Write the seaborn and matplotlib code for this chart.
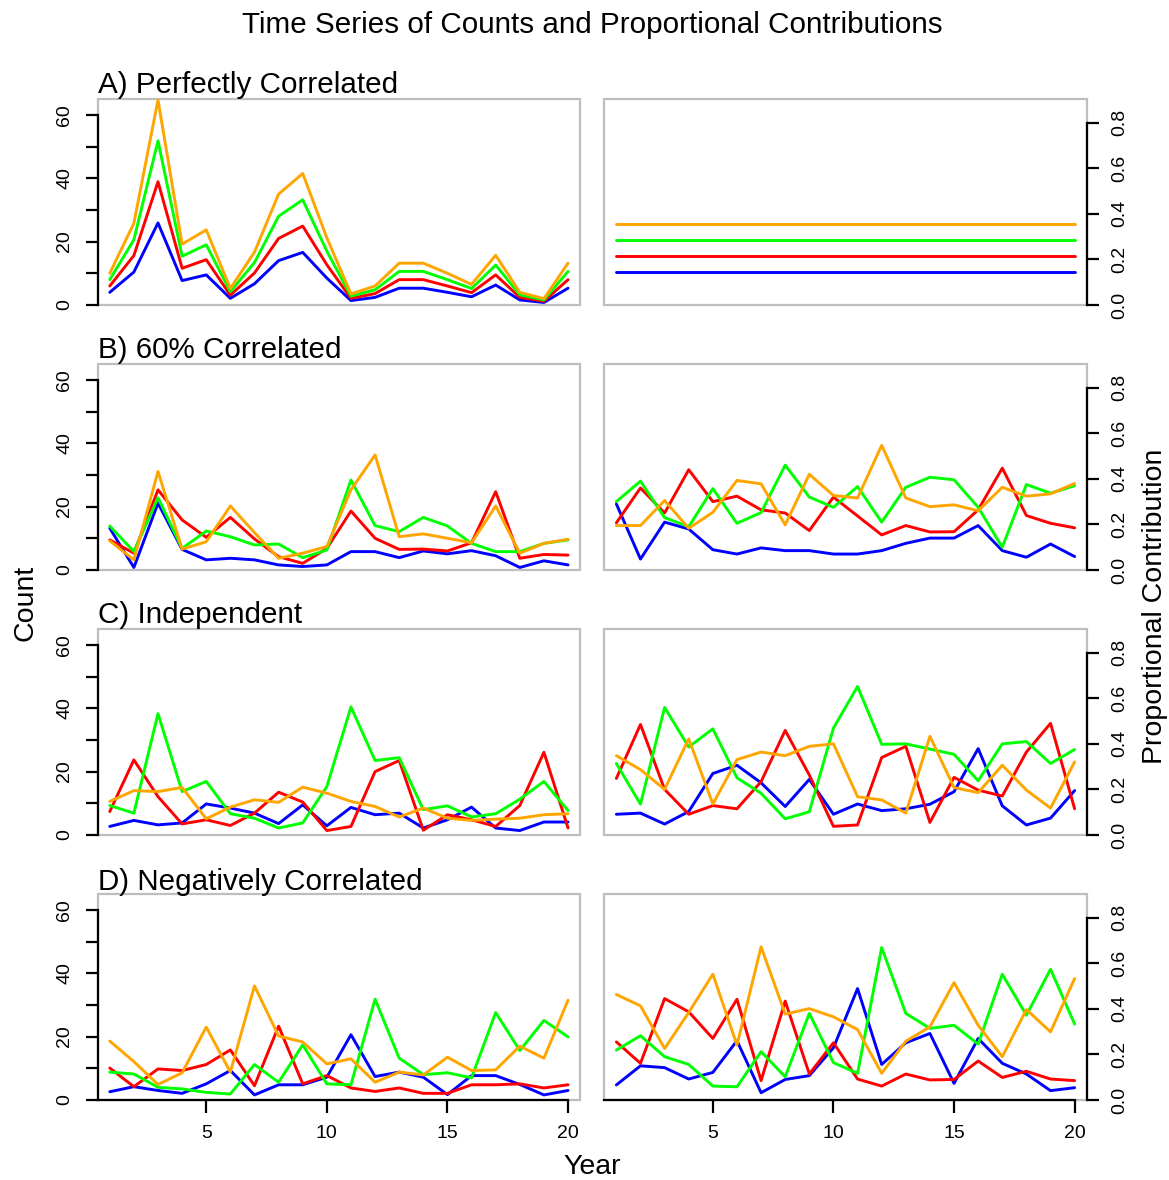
import pandas as pd
import seaborn as sns
import matplotlib.pyplot as plt
from matplotlib.patches import Rectangle

# %% data
years = list(range(1, 21))
series_names = ["blue", "red", "green", "orange"]
colors = {"blue": "#0000FF", "red": "#FF0000", "green": "#00FF00", "orange": "#FFA500"}

panel_titles = ["A) Perfectly Correlated", "B) 60% Correlated", "C) Independent", "D) Negatively Correlated"]
count_ticks = [0, 10, 20, 30, 40, 50, 60]
count_labels = ["0", "", "20", "", "40", "", "60"]
prop_ticks = [0.0, 0.2, 0.4, 0.6, 0.8]
prop_labels = ["0.0", "0.2", "0.4", "0.6", "0.8"]
year_ticks = [5, 10, 15, 20]

# A) counts
a_cnt_blue = [4.0, 10.4, 25.9, 7.7, 9.5, 2.1, 6.7, 14.0, 16.6, 8.5, 1.4, 2.4, 5.3, 5.3, 4.0, 2.6, 6.3, 1.6, 0.8, 5.3]
a_cnt_red = [6.0, 15.6, 38.9, 11.6, 14.3, 3.1, 10.1, 21.0, 24.9, 12.7, 2.1, 3.6, 8.0, 8.0, 6.0, 3.9, 9.5, 2.4, 1.2, 8.0]
a_cnt_green = [8.0, 20.6, 51.8, 15.4, 19.0, 4.2, 13.4, 28.0, 33.2, 17.0, 2.8, 4.8, 10.6, 10.6, 8.0, 5.2, 12.6, 3.2, 1.6, 10.6]
a_cnt_orange = [10.0, 25.8, 64.7, 19.2, 23.7, 5.2, 16.7, 35.0, 41.5, 21.2, 3.5, 6.0, 13.2, 13.2, 10.0, 6.5, 15.7, 4.0, 2.0, 13.2]
# A) proportions
a_prop_blue = [0.143, 0.143, 0.143, 0.143, 0.143, 0.143, 0.143, 0.143, 0.143, 0.143,
               0.143, 0.143, 0.143, 0.143, 0.143, 0.143, 0.143, 0.143, 0.143, 0.143]
a_prop_red = [0.214, 0.214, 0.214, 0.214, 0.214, 0.214, 0.214, 0.214, 0.214, 0.214,
              0.214, 0.214, 0.214, 0.214, 0.214, 0.214, 0.214, 0.214, 0.214, 0.214]
a_prop_green = [0.286, 0.286, 0.286, 0.286, 0.286, 0.286, 0.286, 0.286, 0.286, 0.286,
                0.286, 0.286, 0.286, 0.286, 0.286, 0.286, 0.286, 0.286, 0.286, 0.286]
a_prop_orange = [0.357, 0.357, 0.357, 0.357, 0.357, 0.357, 0.357, 0.357, 0.357, 0.357,
                 0.357, 0.357, 0.357, 0.357, 0.357, 0.357, 0.357, 0.357, 0.357, 0.357]

# B) counts
b_cnt_blue = [13.2, 0.8, 21.1, 6.5, 3.2, 3.7, 3.2, 1.6, 1.1, 1.6, 5.8, 5.8, 3.9, 6.0, 5.1, 6.1, 4.5, 0.8, 2.9, 1.6]
b_cnt_red = [9.5, 5.3, 25.3, 15.8, 10.3, 16.6, 9.8, 4.2, 2.1, 6.8, 18.6, 10.0, 6.5, 6.6, 6.0, 8.6, 24.7, 3.7, 4.9, 4.7]
b_cnt_green = [13.9, 5.8, 22.8, 6.8, 12.3, 10.5, 7.9, 8.2, 3.9, 6.3, 28.4, 14.0, 12.1, 16.6, 13.9, 8.4, 5.8, 5.8, 8.4, 9.5]
b_cnt_orange = [9.2, 3.2, 31.1, 6.6, 8.9, 20.2, 11.8, 3.7, 5.3, 7.4, 25.3, 36.3, 10.5, 11.4, 10.0, 8.6, 20.2, 5.3, 8.4, 9.7]
# B) proportions
b_prop_blue = [0.29, 0.048, 0.21, 0.18, 0.089, 0.07, 0.097, 0.085, 0.085, 0.07,
               0.07, 0.085, 0.117, 0.14, 0.14, 0.195, 0.085, 0.056, 0.114, 0.059]
b_prop_red = [0.207, 0.36, 0.25, 0.44, 0.30, 0.324, 0.264, 0.25, 0.173, 0.32,
              0.237, 0.154, 0.195, 0.167, 0.168, 0.264, 0.447, 0.239, 0.205, 0.185]
b_prop_green = [0.30, 0.39, 0.23, 0.19, 0.357, 0.205, 0.252, 0.46, 0.32, 0.275,
                0.366, 0.21, 0.363, 0.407, 0.396, 0.275, 0.10, 0.375, 0.337, 0.37]
b_prop_orange = [0.195, 0.195, 0.305, 0.183, 0.253, 0.393, 0.378, 0.198, 0.42, 0.327,
                 0.316, 0.547, 0.316, 0.278, 0.286, 0.26, 0.363, 0.324, 0.334, 0.38]

# C) counts
c_cnt_blue = [2.7, 4.6, 3.2, 3.8, 9.8, 8.5, 6.9, 3.6, 9.5, 2.9, 8.7, 6.4, 6.9, 2.2, 4.8, 8.8, 2.2, 1.4, 4.1, 4.1]
c_cnt_red = [7.4, 23.7, 12.1, 3.5, 4.8, 3.0, 6.9, 13.5, 10.4, 1.4, 2.7, 20.0, 23.5, 1.5, 6.4, 4.8, 2.7, 9.3, 26.1, 2.2]
c_cnt_green = [9.3, 6.9, 38.3, 13.7, 16.9, 6.7, 5.3, 2.2, 3.8, 15.3, 40.4, 23.5, 24.4, 8.0, 9.2, 5.7, 6.7, 11.3, 16.9, 7.7]
c_cnt_orange = [10.6, 14.0, 13.7, 15.0, 5.1, 8.8, 11.1, 10.3, 15.1, 13.2, 10.6, 9.0, 5.7, 8.5, 5.3, 4.6, 5.0, 5.3, 6.4, 6.7]
# C) proportions
c_prop_blue = [0.091, 0.096, 0.048, 0.103, 0.27, 0.306, 0.229, 0.125, 0.244, 0.091,
               0.136, 0.107, 0.115, 0.135, 0.19, 0.379, 0.128, 0.044, 0.074, 0.195]
c_prop_red = [0.248, 0.485, 0.20, 0.091, 0.129, 0.115, 0.234, 0.459, 0.263, 0.038,
              0.044, 0.34, 0.389, 0.055, 0.253, 0.197, 0.171, 0.364, 0.49, 0.115]
c_prop_green = [0.314, 0.135, 0.56, 0.386, 0.466, 0.251, 0.183, 0.071, 0.102, 0.469,
                0.652, 0.398, 0.40, 0.377, 0.354, 0.238, 0.40, 0.41, 0.314, 0.375]
c_prop_orange = [0.348, 0.287, 0.20, 0.422, 0.136, 0.331, 0.364, 0.348, 0.389, 0.40,
                 0.168, 0.154, 0.096, 0.433, 0.208, 0.186, 0.306, 0.197, 0.118, 0.321]

# D) counts
d_cnt_blue = [2.6, 4.2, 3.0, 2.1, 5.1, 9.3, 1.6, 4.8, 4.8, 7.2, 20.6, 7.4, 8.8, 7.2, 1.7, 7.7, 7.7, 4.9, 1.6, 3.0]
d_cnt_red = [10.1, 4.2, 9.8, 9.3, 11.2, 15.8, 4.5, 23.3, 5.1, 7.7, 3.8, 2.7, 3.8, 2.1, 2.1, 4.8, 4.8, 5.1, 3.8, 4.8]
d_cnt_green = [8.8, 8.2, 4.0, 3.5, 2.4, 1.9, 11.2, 5.6, 17.4, 5.1, 4.8, 31.8, 13.2, 8.0, 8.6, 7.0, 27.6, 15.6, 25.1, 19.9]
d_cnt_orange = [18.6, 12.1, 4.9, 8.6, 23.0, 8.8, 36.0, 20.2, 18.3, 11.4, 13.0, 5.6, 8.8, 7.9, 13.5, 9.3, 9.5, 17.0, 13.2, 31.5]
# D) proportions
d_prop_blue = [0.066, 0.15, 0.142, 0.092, 0.121, 0.26, 0.032, 0.09, 0.107, 0.229,
               0.489, 0.156, 0.251, 0.292, 0.073, 0.27, 0.161, 0.114, 0.041, 0.054]
d_prop_red = [0.255, 0.161, 0.445, 0.387, 0.27, 0.442, 0.085, 0.434, 0.114, 0.251,
              0.092, 0.061, 0.114, 0.088, 0.09, 0.171, 0.099, 0.126, 0.092, 0.085]
d_prop_green = [0.219, 0.282, 0.19, 0.156, 0.061, 0.058, 0.212, 0.102, 0.38, 0.164,
                0.117, 0.669, 0.38, 0.314, 0.328, 0.245, 0.552, 0.372, 0.574, 0.333]
d_prop_orange = [0.463, 0.413, 0.226, 0.384, 0.552, 0.241, 0.672, 0.377, 0.401, 0.365,
                 0.309, 0.117, 0.258, 0.321, 0.515, 0.328, 0.19, 0.397, 0.299, 0.533]

counts = [
    (a_cnt_blue, a_cnt_red, a_cnt_green, a_cnt_orange),
    (b_cnt_blue, b_cnt_red, b_cnt_green, b_cnt_orange),
    (c_cnt_blue, c_cnt_red, c_cnt_green, c_cnt_orange),
    (d_cnt_blue, d_cnt_red, d_cnt_green, d_cnt_orange),
]
props = [
    (a_prop_blue, a_prop_red, a_prop_green, a_prop_orange),
    (b_prop_blue, b_prop_red, b_prop_green, b_prop_orange),
    (c_prop_blue, c_prop_red, c_prop_green, c_prop_orange),
    (d_prop_blue, d_prop_red, d_prop_green, d_prop_orange),
]


def long_frame(series, col):
    frames = []
    for name, vals in zip(series_names, series):
        frames.append(pd.DataFrame({"Year": years, col: vals, "Series": name}))
    return pd.concat(frames, ignore_index=True)


# %% style
sns.set_style("white")
plt.rcParams.update({
    "font.family": ["Liberation Sans", "DejaVu Sans"],
    "text.color": "black",
    "axes.labelcolor": "black",
    "xtick.color": "black",
    "ytick.color": "black",
})
BOX = "#BEBEBE"
TICK_FS = 14
LAB_FS = 20.5
TITLE_FS = 21.3

W, H = 1169, 1180
fig = plt.figure(figsize=(W / 100, H / 100), dpi=100)

row_tops = [99, 364, 629, 894]
box_h = 206
left_x, right_x, box_w = 97.7, 604.3, 482.4


def frame_axes(ax, side, ylim, ticks, labels, bottom_row):
    ax.set_xlim(0.5, 20.5)
    ax.set_ylim(*ylim)
    for s in ax.spines.values():
        s.set_visible(False)
    ax.add_patch(Rectangle((0, 0), 1, 1, transform=ax.transAxes, fill=False,
                           edgecolor=BOX, lw=1.6, clip_on=False, zorder=0.5))
    sp = ax.spines[side]
    sp.set_visible(True)
    sp.set_color("black")
    sp.set_linewidth(1.6)
    sp.set_bounds(ticks[0], ticks[-1])
    if side == "right":
        ax.yaxis.tick_right()
        ax.tick_params(axis="y", left=False, right=True, labelleft=False, labelright=True)
    else:
        ax.tick_params(axis="y", left=True, right=False, labelleft=True, labelright=False)
    ax.set_yticks(ticks, labels)
    ax.tick_params(axis="y", length=8.5, width=1.6, pad=9, labelsize=TICK_FS,
                   direction="out", colors="black")
    for t in ax.get_yticklabels():
        t.set_rotation(90)
        t.set_va("center")
    if bottom_row:
        sb = ax.spines["bottom"]
        sb.set_visible(True)
        sb.set_color("black")
        sb.set_linewidth(1.6)
        sb.set_bounds(0.5, 20)
        ax.set_xticks(year_ticks, [str(v) for v in year_ticks])
        ax.tick_params(axis="x", bottom=True, length=9, width=1.6, pad=9,
                       labelsize=TICK_FS, direction="out", colors="black")
    else:
        ax.set_xticks([])
    ax.set_xlabel("")
    ax.set_ylabel("")


for i in range(4):
    top = row_tops[i]
    bottom = 1 - (top + box_h) / H
    last = i == 3

    axl = fig.add_axes([left_x / W, bottom, box_w / W, box_h / H])
    sns.lineplot(data=long_frame(counts[i], "Count"), x="Year", y="Count",
                 hue="Series", hue_order=series_names, palette=colors,
                 linewidth=2.1, legend=False, errorbar=None, ax=axl)
    frame_axes(axl, "left", (0, 65), count_ticks, count_labels, last)
    axl.set_title(panel_titles[i], loc="left", fontsize=TITLE_FS, pad=3)

    axr = fig.add_axes([right_x / W, bottom, box_w / W, box_h / H])
    sns.lineplot(data=long_frame(props[i], "Prop"), x="Year", y="Prop",
                 hue="Series", hue_order=series_names, palette=colors,
                 linewidth=2.1, legend=False, errorbar=None, ax=axr)
    frame_axes(axr, "right", (0, 0.904), prop_ticks, prop_labels, last)

fig.text(592 / W, 1 - 25 / H, "Time Series of Counts and Proportional Contributions",
         ha="center", va="center", fontsize=TITLE_FS)
fig.text(25 / W, 1 - 603 / H, "Count", rotation=90, ha="center", va="center", fontsize=LAB_FS)
fig.text(592 / W, 1 - 1167 / H, "Year", ha="center", va="center", fontsize=LAB_FS)
fig.text(1155 / W, 1 - 606 / H, "Proportional Contribution", rotation=90,
         ha="center", va="center", fontsize=LAB_FS)

fig.savefig("out.png", dpi=100)
